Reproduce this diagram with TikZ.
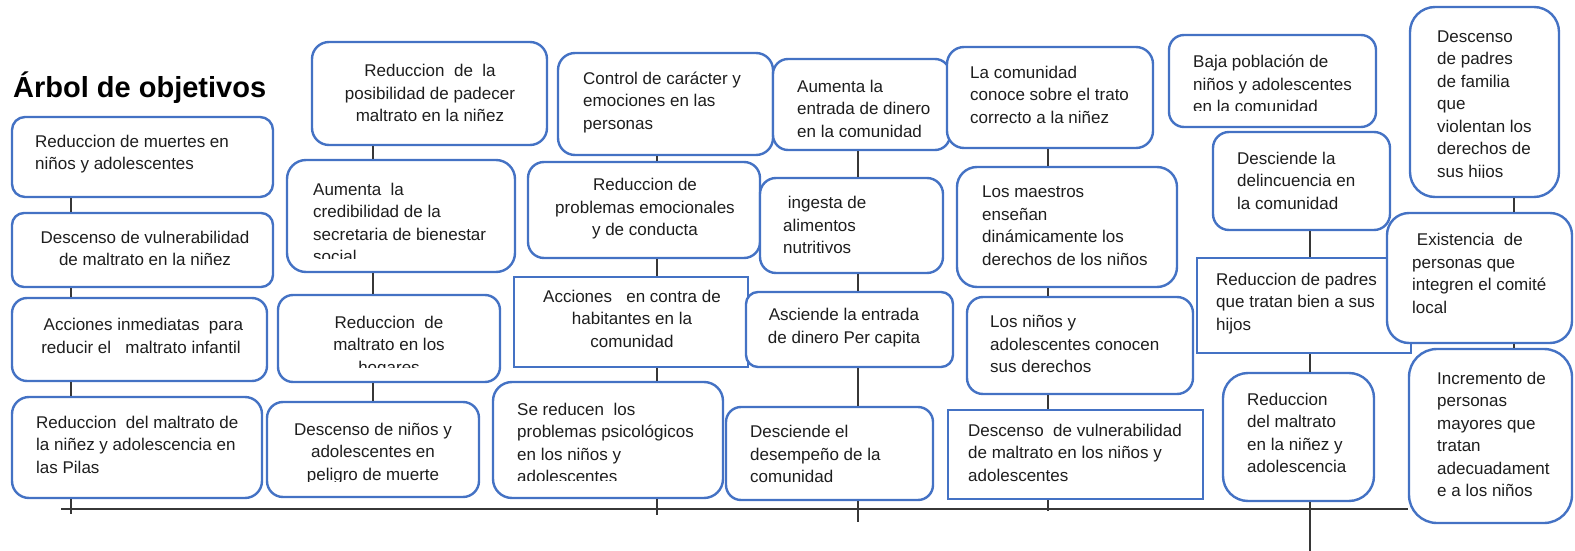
\documentclass[tikz,border=0pt]{standalone}
\usepackage{fontspec}
\setmainfont{Liberation Sans}
\definecolor{boxblue}{RGB}{68,114,196}
\definecolor{txtgray}{RGB}{30,30,30}
\definecolor{linegray}{RGB}{55,55,55}
\newcommand{\goalfont}{\fontsize{17}{22.5}\selectfont}
\tikzset{
  goal/.style = {draw=boxblue, line width=2.4pt, fill=white, rounded corners=15pt, inner sep=0pt},
  flat/.style = {draw=boxblue, line width=2.4pt, fill=white, inner sep=0pt},
  txt/.style  = {text=txtgray, font=\goalfont, inner sep=0pt, align=left,
                 execute at begin node=\strut, execute at end node=\strut},
  ctxt/.style = {txt, align=center},
  cut/.style  = {text=txtgray, font=\goalfont, inner sep=0pt, align=left},
  ccut/.style = {cut, align=center},
  head/.style = {text=black, font=\fontsize{29}{34}\selectfont\bfseries, inner sep=0pt},
  link/.style = {draw=linegray, line width=1.3pt}
}

\begin{document}
\begin{tikzpicture}[x=1pt, y=-1pt]
\useasboundingbox (0,0) rectangle (1575,551);

% title
\node[head, anchor=base west] (title) at (13,97) {Árbol de objetivos};

% boxes =============================

% column 1
\node[goal, rounded corners=13pt, minimum width=261pt, minimum height=80pt] (a1) at (142.5,157) {};
\node[goal, rounded corners=12pt, minimum width=261pt, minimum height=74pt] (a2) at (142.5,250) {};
\node[goal, minimum width=255pt, minimum height=83pt] (a3) at (139.5,339.5) {};
\node[goal, rounded corners=17pt, minimum width=250pt, minimum height=101pt] (a4) at (137,447.5) {};

% column 2
\node[goal, rounded corners=17pt, minimum width=235pt, minimum height=103pt] (b1) at (429.5,93.5) {};
\node[goal, rounded corners=19pt, minimum width=228pt, minimum height=112pt] (b2) at (401,216) {};
\node[goal, minimum width=222pt, minimum height=87pt] (b3) at (389,338.5) {};
\node[goal, rounded corners=16pt, minimum width=212pt, minimum height=95pt] (b4) at (373,449.5) {};

% column 3
\node[goal, rounded corners=17pt, minimum width=215pt, minimum height=102pt] (c1) at (665.5,104) {};
\node[goal, rounded corners=16pt, minimum width=232pt, minimum height=96pt] (c2) at (644,210) {};
\node[flat, minimum width=234pt, minimum height=90pt] (c3) at (631,322) {};
\node[goal, rounded corners=19pt, minimum width=230pt, minimum height=116pt] (c4) at (608,440) {};

% column 4
\node[goal, minimum width=177pt, minimum height=91pt] (d1) at (861.5,104.5) {};
\node[goal, rounded corners=16pt, minimum width=183pt, minimum height=95pt] (d2) at (851.5,225.5) {};
\node[goal, rounded corners=12pt, minimum width=207pt, minimum height=75pt] (d3) at (849.5,329.5) {};
\node[goal, minimum width=207pt, minimum height=93pt] (d4) at (829.5,453.5) {};

% column 5
\node[goal, rounded corners=17pt, minimum width=206pt, minimum height=101pt] (e1) at (1050,97.5) {};
\node[goal, rounded corners=20pt, minimum width=220pt, minimum height=120pt] (e2) at (1067,227) {};
\node[goal, rounded corners=16pt, minimum width=226pt, minimum height=97pt] (e3) at (1080,345.5) {};
\node[flat, minimum width=255pt, minimum height=89pt] (e4) at (1075.5,454.5) {};

% column 6
\node[goal, minimum width=207pt, minimum height=92pt] (f1) at (1272.5,81) {};
\node[goal, rounded corners=16pt, minimum width=177pt, minimum height=98pt] (f2) at (1301.5,181) {};
\node[flat, minimum width=214pt, minimum height=95pt] (f3) at (1304,305.5) {};
\node[goal, rounded corners=25pt, minimum width=151pt, minimum height=128pt] (f4) at (1298.5,437) {};

% column 7
\node[goal, rounded corners=25pt, minimum width=149pt, minimum height=190pt] (g1) at (1484.5,102) {};
\node[goal, rounded corners=22pt, minimum width=185pt, minimum height=130pt] (g2) at (1479.5,278) {};
\node[goal, rounded corners=28pt, minimum width=163pt, minimum height=174pt] (g3) at (1490.5,436) {};

% texts =============================

\node[txt, anchor=west] (a1t) at (35,155.5) {Reduccion de muertes en\\niños y adolescentes};
\node[ctxt] (a2t) at (145,251.5) {Descenso de vulnerabilidad\\de maltrato en la niñez};
\node[ctxt] (a3t) at (141,339) {\ Acciones inmediatas\ \ para\\reducir el\ \ \ maltrato infantil};
\node[txt, anchor=west] (a4t) at (36,448) {Reduccion\ \ del maltrato de\\la niñez y adolescencia en\\las Pilas};

\node[ctxt] (b1t) at (430,96.5) {Reduccion\ \ de\ \ la\\posibilidad de padecer\\maltrato en la niñez};
\begin{scope}
  \clip (290,163) rectangle (512,258);
  \node[cut, anchor=north west] (b2t) at (313,182.5) {Aumenta\ \ la\\credibilidad de la\\secretaria de bienestar\\social};
\end{scope}
\begin{scope}
  \clip (281,298) rectangle (497,367);
  \node[ccut, anchor=north] (b3t) at (389,315.5) {Reduccion\ \ de\\maltrato en los\\hogares};
\end{scope}
\begin{scope}
  \clip (270,405) rectangle (476,481);
  \node[ccut, anchor=north] (b4t) at (373,422.5) {Descenso de niños y\\adolescentes en\\peligro de muerte};
\end{scope}

\node[txt, anchor=west] (c1t) at (583,104) {Control de carácter y\\emociones en las\\personas};
\node[ctxt] (c2t) at (645,210.5) {Reduccion de\\problemas emocionales\\y de conducta};
\node[ctxt] (c3t) at (632,322) {Acciones\ \ \ en contra de\\habitantes en la\\comunidad};
\begin{scope}
  \clip (496,385) rectangle (720,480.5);
  \node[cut, anchor=north west] (c4t) at (517,402.5) {Se reducen\ \ los\\problemas psicológicos\\en los niños y\\adolescentes};
\end{scope}

\begin{scope}
  \clip (776,62) rectangle (947,136.5);
  \node[cut, anchor=north west] (d1t) at (797,79.5) {Aumenta la\\entrada de dinero\\en la comunidad};
\end{scope}
\node[txt, anchor=west] (d2t) at (783,228.5) {\ ingesta de\\alimentos\\nutritivos};
\node[ctxt] (d3t) at (844,329) {Asciende la entrada\\de dinero Per capita};
\node[txt, anchor=west] (d4t) at (750,457.5) {Desciende el\\desempeño de la\\comunidad};

\node[txt, anchor=west] (e1t) at (970,98) {La comunidad\\conoce sobre el trato\\correcto a la niñez};
\node[txt, anchor=west] (e2t) at (982,229) {Los maestros\\enseñan\\dinámicamente los\\derechos de los niños};
\node[txt, anchor=west] (e3t) at (990,347.5) {Los niños y\\adolescentes conocen\\sus derechos};
\node[txt, anchor=west] (e4t) at (968,456) {Descenso\ \ de vulnerabilidad\\de maltrato en los niños y\\adolescentes};

\begin{scope}
  \clip (1172,38) rectangle (1373,110.5);
  \node[cut, anchor=north west] (f1t) at (1193,55) {Baja población de\\niños y adolescentes\\en la comunidad};
\end{scope}
\node[txt, anchor=west] (f2t) at (1237,184) {Desciende la\\delincuencia en\\la comunidad};
\node[txt, anchor=west] (f3t) at (1216,305) {Reduccion de padres\\que tratan bien a sus\\hijos};
\node[txt, anchor=west] (f4t) at (1247,436) {Reduccion\\del maltrato\\en la niñez y\\adolescencia};

\begin{scope}
  \clip (1413,10) rectangle (1556,177.5);
  \node[cut, anchor=north west] (g1t) at (1437,30.5) {Descenso\\de padres\\de familia\\que\\violentan los\\derechos de\\sus hijos};
\end{scope}
\node[txt, anchor=west] (g2t) at (1412,276.5) {\ Existencia\ \ de\\personas que\\integren el comité\\local};
\node[txt, anchor=west] (g3t) at (1437,437.5) {Incremento de\\personas\\mayores que\\tratan\\adecuadament\\e a los niños};

% edges =============================
\coordinate (ca) at (71,514);
\coordinate (cb) at (373,0);
\coordinate (cc) at (657,515);
\coordinate (cd) at (858,522);
\coordinate (ce) at (1048,511);
\coordinate (cf) at (1310,551);
\coordinate (cg) at (1514,0);
\coordinate (base) at (61,509);

\path[link] (base) -- (base -| g3.west);

\path[link] (a1.south -| ca) -- (a2.north -| ca);
\path[link] (a2.south -| ca) -- (a3.north -| ca);
\path[link] (a3.south -| ca) -- (a4.north -| ca);
\path[link] (a4.south -| ca) -- (ca);

\path[link] (b1.south -| cb) -- (b2.north -| cb);
\path[link] (b2.south -| cb) -- (b3.north -| cb);
\path[link] (b3.south -| cb) -- (b4.north -| cb);

\path[link] (c1.south -| cc) -- (c2.north -| cc);
\path[link] (c2.south -| cc) -- (c3.north -| cc);
\path[link] (c3.south -| cc) -- (c4.north -| cc);
\path[link] (c4.south -| cc) -- (cc);

\path[link] (d1.south -| cd) -- (d2.north -| cd);
\path[link] (d2.south -| cd) -- (d3.north -| cd);
\path[link] (d3.south -| cd) -- (d4.north -| cd);
\path[link] (d4.south -| cd) -- (cd);

\path[link] (e1.south -| ce) -- (e2.north -| ce);
\path[link] (e2.south -| ce) -- (e3.north -| ce);
\path[link] (e3.south -| ce) -- (e4.north -| ce);
\path[link] (e4.south -| ce) -- (ce);

\path[link] (f2.south -| cf) -- (f3.north -| cf);
\path[link] (f3.south -| cf) -- (f4.north -| cf);
\path[link] (f4.south -| cf) -- (cf);

\path[link] (g1.south -| cg) -- (g2.north -| cg);
\path[link] (g2.south -| cg) -- (g3.north -| cg);

\end{tikzpicture}
\end{document}
